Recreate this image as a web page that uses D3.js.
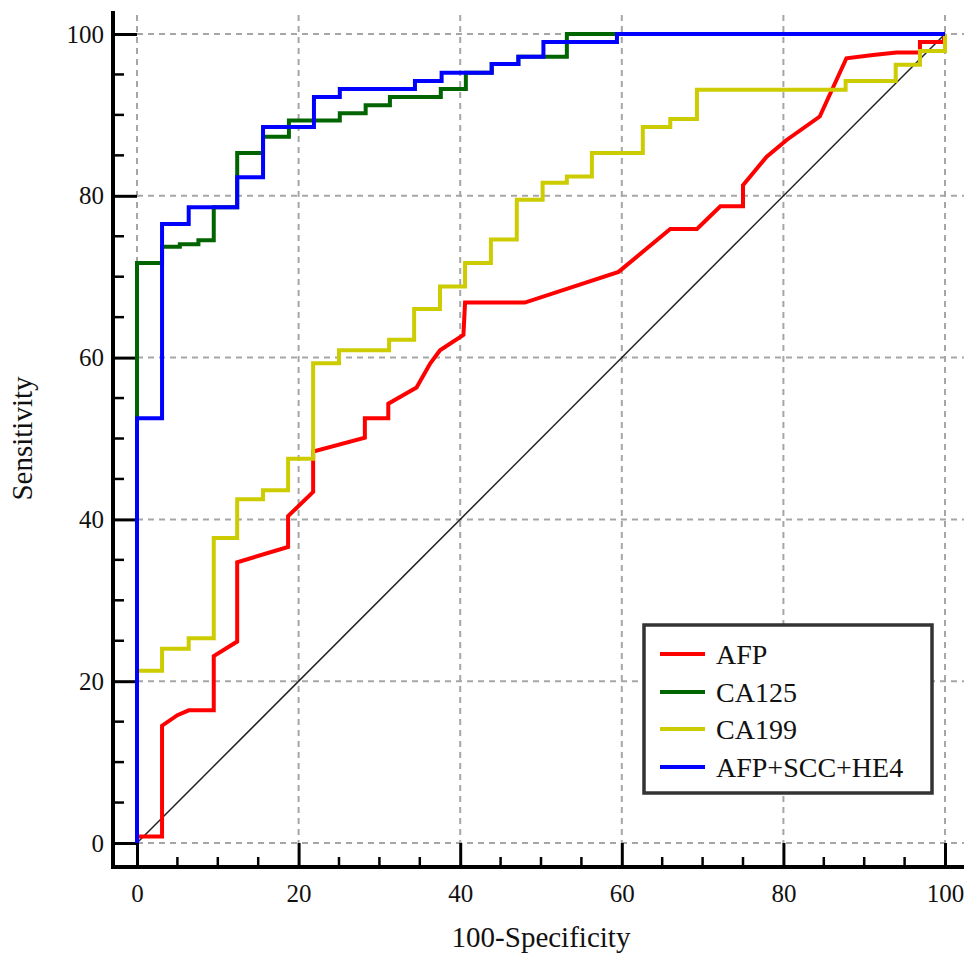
<!DOCTYPE html>
<html>
<head>
<meta charset="utf-8">
<script src="https://cdn.jsdelivr.net/npm/d3@7"></script>
<style>
  html, body { margin: 0; padding: 0; background: #fff; }
  svg { display: block; }
</style>
</head>
<body>
<div id="chart"></div>
<script>
// ---------- data ----------
const seriesNames = ["AFP", "CA125", "CA199", "AFP+SCC+HE4"];
const seriesColors = ["#ff0000", "#006400", "#cccc00", "#0000ff"];

const afpPoints = [
  [0,0],[0,0.8],[3.1,0.8],[3.1,14.5],[5.0,15.8],[6.4,16.4],[9.5,16.4],[9.5,23.1],
  [12.4,24.9],[12.4,34.7],[18.7,36.6],[18.7,40.4],[21.8,43.4],[21.8,48.4],[28.2,50.1],
  [28.2,52.5],[31.1,52.5],[31.1,54.3],[34.6,56.3],[36.3,59.3],[37.5,60.9],[40.4,62.8],
  [40.6,66.8],[48.0,66.8],[59.6,70.6],[66.0,75.9],[69.3,75.9],[72.2,78.7],[75.0,78.7],
  [75.0,81.3],[77.9,84.8],[80.4,86.9],[84.5,89.8],[87.8,97.0],[91.1,97.4],[94.0,97.7],
  [96.9,97.7],[96.9,99.0],[99.8,99.0],[100,100]
];
const ca125Points = [
  [0,0],[0,71.7],[3.1,71.7],[3.1,73.7],[5.3,73.7],[5.3,74.0],[7.6,74.0],[7.6,74.5],
  [9.5,74.5],[9.5,78.6],[12.4,78.6],[12.4,85.3],[15.6,85.3],[15.6,87.3],[18.8,87.3],
  [18.8,89.3],[25.1,89.3],[25.1,90.2],[28.3,90.2],[28.3,91.2],[31.3,91.2],[31.3,92.2],
  [37.6,92.2],[37.6,93.2],[40.7,93.2],[40.7,95.2],[43.9,95.2],[43.9,96.3],[47.2,96.3],
  [47.2,97.2],[53.2,97.2],[53.2,100],[100,100]
];
const ca199Points = [
  [0,0],[0,21.3],[3.1,21.3],[3.1,24.0],[6.4,24.0],[6.4,25.3],[9.5,25.3],[9.5,37.7],
  [12.4,37.7],[12.4,42.5],[15.6,42.5],[15.6,43.6],[18.7,43.6],[18.7,47.5],[21.8,47.5],
  [21.8,59.3],[25.0,59.3],[25.0,60.9],[31.2,60.9],[31.2,62.2],[34.3,62.2],[34.3,66.0],
  [37.5,66.0],[37.5,68.8],[40.6,68.8],[40.6,71.7],[43.8,71.7],[43.8,74.6],[47.0,74.6],
  [47.0,79.5],[50.2,79.5],[50.2,81.6],[53.2,81.6],[53.2,82.4],[56.3,82.4],[56.3,85.3],
  [62.6,85.3],[62.6,88.5],[66.0,88.5],[66.0,89.5],[69.3,89.5],[69.3,93.1],[87.7,93.1],
  [87.7,94.2],[93.9,94.2],[93.9,96.2],[96.9,96.2],[96.9,97.9],[100,97.9],[100,100]
];
const comboPoints = [
  [0,0],[0,52.5],[3.1,52.5],[3.1,76.5],[6.4,76.5],[6.4,78.6],[12.4,78.6],[12.4,82.3],
  [15.6,82.3],[15.6,88.5],[21.9,88.5],[21.9,92.2],[25.1,92.2],[25.1,93.2],[34.4,93.2],
  [34.4,94.2],[37.7,94.2],[37.7,95.2],[43.9,95.2],[43.9,96.3],[47.2,96.3],[47.2,97.2],
  [50.3,97.2],[50.3,99.0],[59.4,99.0],[59.4,100],[100,100]
];
const referenceLine = [[0,0],[100,100]];

const majorTicks = [0, 20, 40, 60, 80, 100];
const minorTicks = [5, 10, 15, 25, 30, 35, 45, 50, 55, 65, 70, 75, 85, 90, 95];
const xTitle = "100-Specificity";
const yTitle = "Sensitivity";

// ---------- layout ----------
const W = 964, H = 956;
const axisX = 113, axisY = 867;
const x = d3.scaleLinear().domain([0, 100]).range([137, 945]);
const y = d3.scaleLinear().domain([0, 100]).range([843, 34]);
const FONT = "'Liberation Serif', 'Times New Roman', serif";

const svg = d3.select("#chart").append("svg")
  .attr("width", W).attr("height", H);

// grid
const grid = svg.append("g")
  .attr("stroke", "#a6a6a6").attr("stroke-width", 2)
  .attr("stroke-dasharray", "6,5").attr("fill", "none");
grid.selectAll("line.v").data(majorTicks).join("line")
  .attr("class", "v")
  .attr("x1", d => x(d)).attr("x2", d => x(d))
  .attr("y1", 15).attr("y2", y(0));
grid.selectAll("line.h").data(majorTicks).join("line")
  .attr("class", "h")
  .attr("y1", d => y(d)).attr("y2", d => y(d))
  .attr("x1", x(0)).attr("x2", W);

// x axis (ticks point inward)
const gx = svg.append("g").attr("transform", `translate(0,${axisY})`)
  .call(d3.axisBottom(x).tickValues(majorTicks).tickSize(-(axisY - y(0))).tickPadding(17)
    .tickFormat(d3.format("d")));
gx.select(".domain").remove();
gx.selectAll(".tick line").attr("stroke", "#000").attr("stroke-width", 3);
gx.selectAll(".tick text").attr("font-family", FONT).attr("font-size", 25)
  .attr("fill", "#111");
gx.selectAll("line.minor").data(minorTicks).join("line")
  .attr("class", "minor")
  .attr("x1", d => x(d)).attr("x2", d => x(d))
  .attr("y1", 0).attr("y2", -10)
  .attr("stroke", "#000").attr("stroke-width", 2.5);

// y axis
const gy = svg.append("g").attr("transform", `translate(${axisX},0)`)
  .call(d3.axisLeft(y).tickValues(majorTicks).tickSize(-(x(0) - axisX)).tickPadding(9)
    .tickFormat(d3.format("d")));
gy.select(".domain").remove();
gy.selectAll(".tick line").attr("stroke", "#000").attr("stroke-width", 3);
gy.selectAll(".tick text").attr("font-family", FONT).attr("font-size", 25)
  .attr("fill", "#111");
gy.selectAll("line.minor").data(minorTicks).join("line")
  .attr("class", "minor")
  .attr("y1", d => y(d)).attr("y2", d => y(d))
  .attr("x1", 0).attr("x2", 11)
  .attr("stroke", "#000").attr("stroke-width", 2.5);

// axis lines
svg.append("line").attr("x1", axisX).attr("x2", axisX).attr("y1", 11).attr("y2", axisY + 2)
  .attr("stroke", "#000").attr("stroke-width", 4);
svg.append("line").attr("x1", axisX - 2).attr("x2", W).attr("y1", axisY).attr("y2", axisY)
  .attr("stroke", "#000").attr("stroke-width", 4);

// reference diagonal
const line = d3.line().x(d => x(d[0])).y(d => y(d[1]));
svg.append("path").datum(referenceLine).attr("d", line)
  .attr("fill", "none").attr("stroke", "#222").attr("stroke-width", 1.5);

// ROC curves
const allSeries = [afpPoints, ca125Points, ca199Points, comboPoints];
svg.append("g").selectAll("path").data(allSeries).join("path")
  .attr("d", line)
  .attr("fill", "none")
  .attr("stroke", (d, i) => seriesColors[i])
  .attr("stroke-width", 4)
  .attr("stroke-linejoin", "miter");

// axis titles
svg.append("text").attr("x", x(50)).attr("y", 947)
  .attr("text-anchor", "middle").attr("font-family", FONT).attr("font-size", 29)
  .attr("fill", "#111").text(xTitle);
svg.append("text").attr("transform", `translate(32,${y(50)}) rotate(-90)`)
  .attr("text-anchor", "middle").attr("font-family", FONT).attr("font-size", 29)
  .attr("fill", "#111").text(yTitle);

// legend
const legend = svg.append("g");
legend.append("rect").attr("x", 644).attr("y", 625).attr("width", 288).attr("height", 168)
  .attr("fill", "#fff").attr("stroke", "#333").attr("stroke-width", 3.5);
const rowY = [654, 692, 729, 767];
const rows = legend.selectAll("g.row").data(seriesNames).join("g").attr("class", "row");
rows.append("line")
  .attr("x1", 660).attr("x2", 705)
  .attr("y1", (d, i) => rowY[i]).attr("y2", (d, i) => rowY[i])
  .attr("stroke", (d, i) => seriesColors[i]).attr("stroke-width", 4);
rows.append("text")
  .attr("x", 716).attr("y", (d, i) => rowY[i] + 9.5)
  .attr("font-family", FONT).attr("font-size", 28).attr("fill", "#111")
  .text(d => d);
</script>
</body>
</html>
